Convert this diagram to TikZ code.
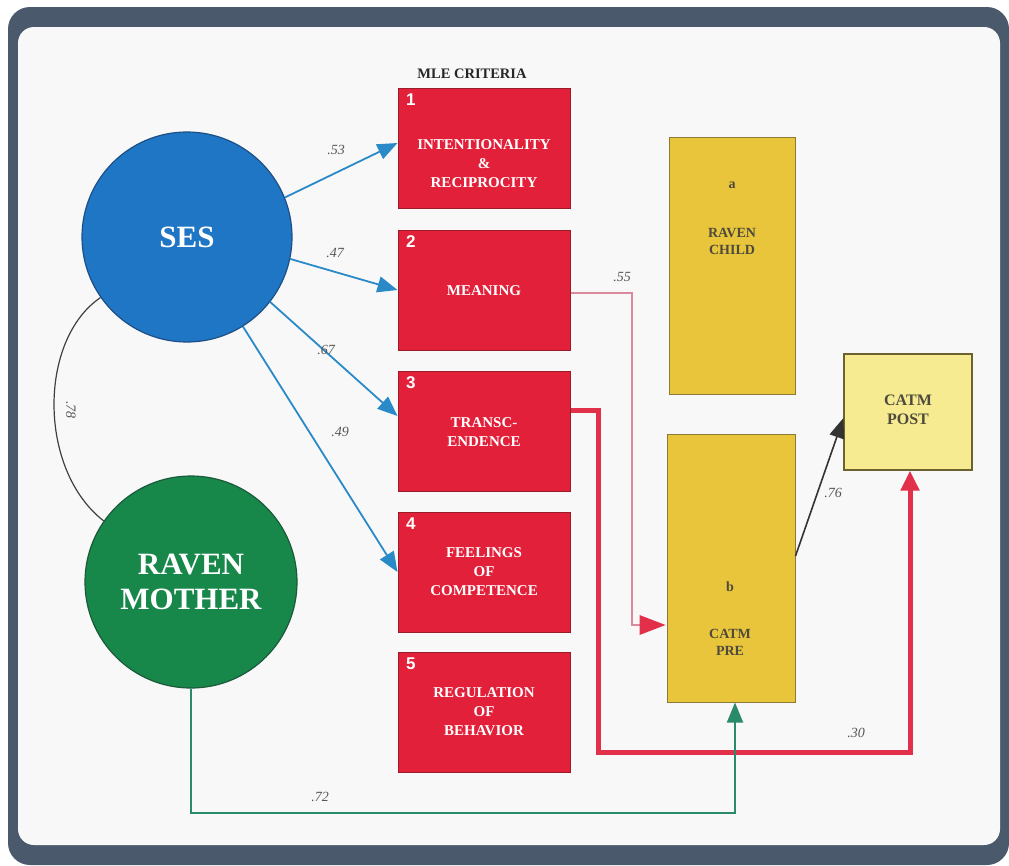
\documentclass[tikz,border=0pt]{standalone}
\usepackage{fontspec}
\setmainfont{Liberation Serif}
\newfontfamily\numfont{Liberation Sans}
\usetikzlibrary{arrows.meta}
\definecolor{frame}{HTML}{4A5A6C}
\definecolor{bg}{HTML}{F8F8F9}
\definecolor{sesblue}{HTML}{1F76C4}
\definecolor{sesedge}{HTML}{1D4F86}
\definecolor{mgreen}{HTML}{17874A}
\definecolor{mgreenedge}{HTML}{1B5A3A}
\definecolor{mlered}{HTML}{E2203A}
\definecolor{mleedge}{HTML}{9A1B2A}
\definecolor{ybox}{HTML}{E8C53A}
\definecolor{yedge}{HTML}{8A7A3A}
\definecolor{ypost}{HTML}{F6EB90}
\definecolor{arrblue}{HTML}{2A8AC8}
\definecolor{pinkline}{HTML}{D98A9C}
\definecolor{redline}{HTML}{E2304A}
\definecolor{greenline}{HTML}{2A8A6C}
\definecolor{labgray}{HTML}{555555}
\tikzset{
  mlebox/.style={draw=mleedge, line width=1pt, fill=mlered, minimum width=172pt, minimum height=120pt, inner sep=0pt},
  ybigbox/.style={draw=yedge, line width=1pt, fill=ybox, inner sep=0pt},
  boxtext/.style={text=white, font=\bfseries\fontsize{15}{19}\selectfont, align=center},
  numtext/.style={text=white, font=\numfont\bfseries\fontsize{17}{19}\selectfont},
  ytext/.style={text=black!80!yellow, font=\bfseries\fontsize{14}{17}\selectfont, align=center},
  coef/.style={text=labgray, font=\itshape\fontsize{14}{16}\selectfont},
  bluearrow/.style={draw=arrblue, line width=1.8pt, -{Triangle[length=20pt,width=16pt]}},
}
\begin{document}
\begin{tikzpicture}[x=1pt,y=-1pt]
\useasboundingbox (0,0) rectangle (1009,865);
% frame
\fill[frame, rounded corners=22pt] (8,7) rectangle (1009,865);
\fill[bg, rounded corners=16pt] (18,27) rectangle (1000,845);
% circles
\node[circle, draw=sesedge, line width=1.2pt, fill=sesblue, minimum size=210pt, inner sep=0pt,
  text=white, font=\bfseries\fontsize{31}{35}\selectfont] (ses) at (187,237) {SES};
\node[circle, draw=mgreenedge, line width=1.2pt, fill=mgreen, minimum size=212pt, inner sep=0pt,
  text=white, font=\bfseries\fontsize{31}{35}\selectfont, align=center] (mother) at (191,582) {RAVEN\\MOTHER};
% correlation arc
\draw[black!75, line width=1.2pt] (ses.215) .. controls (38,340) and (38,470) .. (mother.145);
\node[coef, rotate=-90] (r78) at (71,410) {.78};
% MLE criteria
\node[font=\bfseries\fontsize{14.5}{16}\selectfont, text=black!85] (mletitle) at (472,74) {MLE CRITERIA};
\node[mlebox] (m1) at (484,148) {};
\node[mlebox] (m2) at (484,290) {};
\node[mlebox] (m3) at (484,431) {};
\node[mlebox] (m4) at (484,572) {};
\node[mlebox] (m5) at (484,712) {};
\foreach \i in {1,...,5} {
  \node[numtext, anchor=north west] (n\i) at ([xshift=5pt,yshift=-3pt]m\i.north west) {\i};
}
\node[boxtext] (t1) at (484,164) {INTENTIONALITY\\\&\\RECIPROCITY};
\node[boxtext] (t2) at (484,291) {MEANING};
\node[boxtext] (t3) at (484,432) {TRANSC-\\ENDENCE};
\node[boxtext] (t4) at (484,572) {FEELINGS\\OF\\COMPETENCE};
\node[boxtext] (t5) at (484,712) {REGULATION\\OF\\BEHAVIOR};
% yellow boxes
\node[ybigbox, minimum width=126pt, minimum height=257pt] (rc) at (732,266) {};
\node[ytext] (rca) at (732,185) {a};
\node[ytext] (rct) at (732,241) {RAVEN\\CHILD};
\node[ybigbox, minimum width=128pt, minimum height=268pt] (pre) at (731,568) {};
\node[ytext] (preb) at (730,587) {b};
\node[ytext] (pret) at (730,642) {CATM\\PRE};
\node[draw=yedge!80!black, line width=1.2pt, fill=ypost, minimum width=128pt, minimum height=116pt, inner sep=0pt] (post) at (908,412) {};
\node[ytext, font=\bfseries\fontsize{16}{19}\selectfont] (postt) at (908,410) {CATM\\POST};
% SES arrows
\draw[bluearrow] (ses.22) -- (m1.west |- 0,143);
\node[coef] (l53) at (336,150) {.53};
\draw[bluearrow] (ses.-12) -- (m2.west);
\node[coef] (l47) at (335,253) {.47};
\draw[bluearrow] (ses.-38) -- ([yshift=15pt]m3.west);
\node[coef] (l67) at (326,350) {.67};
\draw[bluearrow] (ses.-58) -- (m4.west);
\node[coef] (l49) at (340,432) {.49};
% meaning -> CATM PRE
\coordinate (p1) at (632,293);
\draw[pinkline, line width=1.6pt] (m2.east |- p1) -- (p1) -- (632,625) -- ([xshift=-20pt]pre.west |- 0,625);
\fill[redline] ([xshift=-1pt]pre.west |- 0,625) -- ++(-26,-10) -- ++(0,20) -- cycle;
\node[coef] (l55) at (622,277) {.55};
% transcendence -> CATM POST
\draw[redline, line width=5pt, line join=miter, -{Triangle[length=20pt,width=18pt]}]
  (m3.east |- 0,410) -- (598,410) -- (598,752) -- (910,752) -- (post.south -| 910,0);
\node[coef] (l30) at (856,733) {.30};
% raven mother -> CATM PRE
\draw[greenline, line width=1.8pt, -{Triangle[length=20pt,width=16pt]}]
  (mother.south) -- (mother.south |- 0,813) -- (735,813) -- (pre.south -| 735,0);
\node[coef] (l72) at (320,797) {.72};
% CATM PRE -> CATM POST
\draw[black!80, line width=1.6pt, -{Triangle[length=20pt,width=15pt]}] (pre.east |- 0,556) -- (post.west |- 0,418);
\node[coef] (l76) at (833,493) {.76};
\end{tikzpicture}
\end{document}
